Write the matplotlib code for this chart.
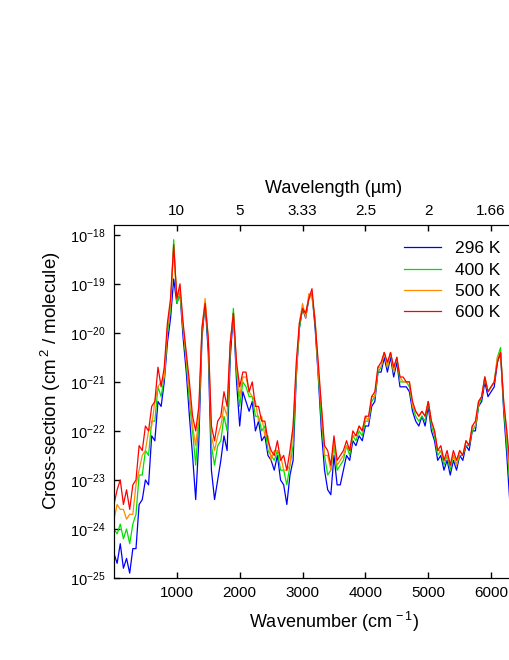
import numpy as np
import matplotlib
matplotlib.use("Agg")
import matplotlib.pyplot as plt

plt.rcParams['font.family'] = ['Liberation Sans', 'DejaVu Sans']
plt.rcParams['mathtext.fontset'] = 'custom'
plt.rcParams['mathtext.rm'] = 'Liberation Sans'
plt.rcParams['mathtext.it'] = 'Liberation Sans:italic'
plt.rcParams['mathtext.default'] = 'regular'

# wavenumber grid (cm-1), one value every 50 cm-1
wavenumber = np.arange(0, 6301, 50)

# log10 of cross-section, rows of 500 cm-1
log_296 = [
    -24.5, -24.7, -24.3, -24.8, -24.6, -24.9, -24.4, -24.4, -23.5, -23.4,
    -23.0, -23.1, -22.1, -22.2, -21.4, -21.5, -21.0, -20.2, -19.7, -18.9,
    -19.4, -19.2, -20.1, -20.8, -21.7, -22.5, -23.4, -22.2, -20.1, -19.4,
    -20.4, -22.8, -23.4, -23.0, -22.6, -22.1, -22.4, -20.5, -19.6, -21.0,
    -21.9, -21.2, -21.4, -21.6, -21.4, -22.0, -21.8, -22.2, -22.1, -22.5,
    -22.6, -22.8, -22.5, -23.0, -23.1, -23.5, -22.9, -22.6, -20.9, -19.9,
    -19.5, -19.7, -19.3, -19.2, -19.9, -20.9, -22.0, -22.8, -23.2, -23.3,
    -22.5, -23.1, -23.1, -22.8, -22.5, -22.6, -22.2, -22.3, -22.1, -22.2,
    -21.9, -21.9, -21.5, -21.4, -20.8, -20.8, -20.5, -20.8, -20.5, -20.9,
    -20.6, -21.1, -21.1, -21.1, -21.2, -21.6, -21.8, -21.9, -21.7, -21.9,
    -21.5, -22.0, -22.2, -22.6, -22.5, -22.8, -22.6, -22.9, -22.6, -22.8,
    -22.5, -22.6, -22.3, -22.4, -22.0, -22.0, -21.5, -21.4, -21.0, -21.3,
    -21.2, -21.1, -20.6, -20.4, -21.6, -22.5, -23.5]

log_400 = [
    -24.0, -24.1, -23.9, -24.2, -24.0, -24.3, -23.9, -23.7, -22.9, -22.9,
    -22.4, -22.5, -21.8, -21.8, -21.1, -21.3, -20.9, -20.0, -19.5, -18.1,
    -19.4, -19.2, -19.9, -20.6, -21.4, -22.0, -22.7, -21.8, -20.0, -19.4,
    -20.2, -22.3, -22.7, -22.3, -22.2, -21.7, -22.0, -20.3, -19.5, -20.8,
    -21.5, -21.0, -21.1, -21.3, -21.3, -21.7, -21.7, -22.0, -21.9, -22.4,
    -22.5, -22.6, -22.4, -22.8, -22.8, -23.1, -22.7, -22.3, -20.8, -19.9,
    -19.5, -19.6, -19.3, -19.2, -19.8, -20.8, -21.8, -22.5, -22.9, -22.8,
    -22.3, -22.8, -22.7, -22.6, -22.3, -22.5, -22.1, -22.2, -22.0, -22.1,
    -21.8, -21.8, -21.4, -21.3, -20.8, -20.7, -20.4, -20.7, -20.4, -20.8,
    -20.5, -21.0, -21.0, -21.0, -21.1, -21.5, -21.7, -21.8, -21.7, -21.8,
    -21.4, -21.9, -22.1, -22.5, -22.4, -22.7, -22.5, -22.8, -22.5, -22.7,
    -22.5, -22.5, -22.3, -22.3, -22.0, -21.9, -21.5, -21.3, -20.9, -21.2,
    -21.1, -21.0, -20.5, -20.3, -21.5, -22.3, -23.1]

log_500 = [
    -23.8, -23.5, -23.6, -23.6, -23.8, -23.7, -23.7, -23.1, -22.8, -22.5,
    -22.4, -22.0, -21.9, -21.4, -21.1, -21.0, -20.9, -19.9, -19.4, -18.3,
    -19.3, -19.1, -19.9, -20.5, -21.2, -21.9, -22.3, -21.7, -19.9, -19.3,
    -20.1, -22.1, -22.4, -22.1, -21.9, -21.5, -21.7, -20.2, -19.6, -20.7,
    -21.3, -20.9, -20.9, -21.2, -21.3, -21.4, -21.8, -21.7, -22.1, -22.1,
    -22.6, -22.4, -22.4, -22.5, -22.8, -22.8, -22.7, -21.9, -20.8, -19.8,
    -19.4, -19.7, -19.2, -19.3, -19.7, -20.8, -21.5, -22.5, -22.5, -22.8,
    -22.2, -22.7, -22.6, -22.5, -22.3, -22.4, -22.1, -22.1, -21.9, -22.0,
    -21.7, -21.8, -21.3, -21.3, -20.7, -20.7, -20.4, -20.7, -20.4, -20.8,
    -20.5, -20.9, -21.0, -21.0, -21.0, -21.5, -21.6, -21.7, -21.6, -21.7,
    -21.4, -21.8, -22.0, -22.4, -22.4, -22.6, -22.5, -22.7, -22.5, -22.7,
    -22.4, -22.5, -22.2, -22.3, -21.9, -21.9, -21.4, -21.3, -20.9, -21.2,
    -21.1, -21.0, -20.5, -20.4, -21.4, -22.1, -22.9]

log_600 = [
    -23.5, -23.2, -23.0, -23.5, -23.2, -23.6, -23.1, -23.0, -22.3, -22.4,
    -21.9, -22.0, -21.5, -21.4, -20.7, -21.1, -20.7, -19.8, -19.3, -18.2,
    -19.3, -19.0, -19.8, -20.4, -21.0, -21.7, -22.0, -21.5, -19.9, -19.4,
    -20.1, -21.9, -22.2, -21.8, -21.7, -21.2, -21.5, -20.2, -19.6, -20.6,
    -21.1, -20.8, -20.8, -21.2, -21.0, -21.5, -21.5, -21.8, -21.8, -22.2,
    -22.4, -22.5, -22.2, -22.6, -22.5, -22.8, -22.4, -21.9, -20.6, -19.8,
    -19.5, -19.6, -19.3, -19.1, -19.8, -20.6, -21.5, -22.3, -22.4, -22.7,
    -22.1, -22.6, -22.5, -22.4, -22.2, -22.4, -22.0, -22.1, -21.9, -22.0,
    -21.7, -21.7, -21.3, -21.2, -20.7, -20.6, -20.4, -20.6, -20.4, -20.7,
    -20.5, -20.9, -20.9, -21.0, -21.0, -21.4, -21.6, -21.7, -21.6, -21.7,
    -21.4, -21.8, -22.0, -22.4, -22.3, -22.6, -22.4, -22.7, -22.4, -22.6,
    -22.4, -22.5, -22.2, -22.3, -21.9, -21.8, -21.4, -21.3, -20.9, -21.2,
    -21.1, -21.0, -20.6, -20.4, -21.4, -22.0, -22.7]

series = [("296 K", log_296, "#0000ff"),
          ("400 K", log_400, "#00e000"),
          ("500 K", log_500, "#ff8c00"),
          ("600 K", log_600, "#ff0000")]

top_ticks = [1000, 2000, 3000, 4000, 5000, 6000]
top_labels = ["10", "5", "3.33", "2.5", "2", "1.66"]

fig = plt.figure(figsize=(5.1, 6.6), dpi=100)
# axes runs past the right edge of the picture
ax = fig.add_axes([0.2235, 0.1242, 0.8627, 0.5349])

for name, vals, col in series:
    ax.plot(wavenumber, 10.0 ** np.array(vals), color=col, lw=0.9, label=name)

ax.set_yscale('log')
ax.set_xlim(0, 7000)
ax.set_ylim(1e-25, 10 ** -17.8)
ax.set_xticks(top_ticks)
ax.set_yticks([10.0 ** k for k in range(-25, -17)])
ax.minorticks_off()
ax.tick_params(direction='in', length=4, width=1)
ax.tick_params(axis='x', labelsize=11, pad=6)
ax.tick_params(axis='y', labelsize=10.5, pad=6)
ax.spines['right'].set_visible(False)

ax.set_xlabel("Wavenumber (cm$^{\\,-1}$)", fontsize=13, labelpad=7)
ax.set_ylabel("Cross-section (cm$^{\\,2}$ / molecule)", fontsize=13.5)
ax.yaxis.set_label_coords(-0.116, 0.558)

ax2 = ax.twiny()
ax2.set_xlim(ax.get_xlim())
ax2.set_xticks(top_ticks)
ax2.set_xticklabels(top_labels)
ax2.tick_params(direction='in', length=4, width=1, labelsize=11, pad=5)
ax2.spines['right'].set_visible(False)
ax2.set_xlabel("Wavelength (µm)", fontsize=13, labelpad=8)

ax.legend(loc='upper right', bbox_to_anchor=(0.994, 0.645),
          bbox_transform=fig.transFigure, frameon=False, fontsize=12.5,
          handlelength=2.1, labelspacing=0.35, borderaxespad=0)

fig.savefig("out.png", dpi=100)
